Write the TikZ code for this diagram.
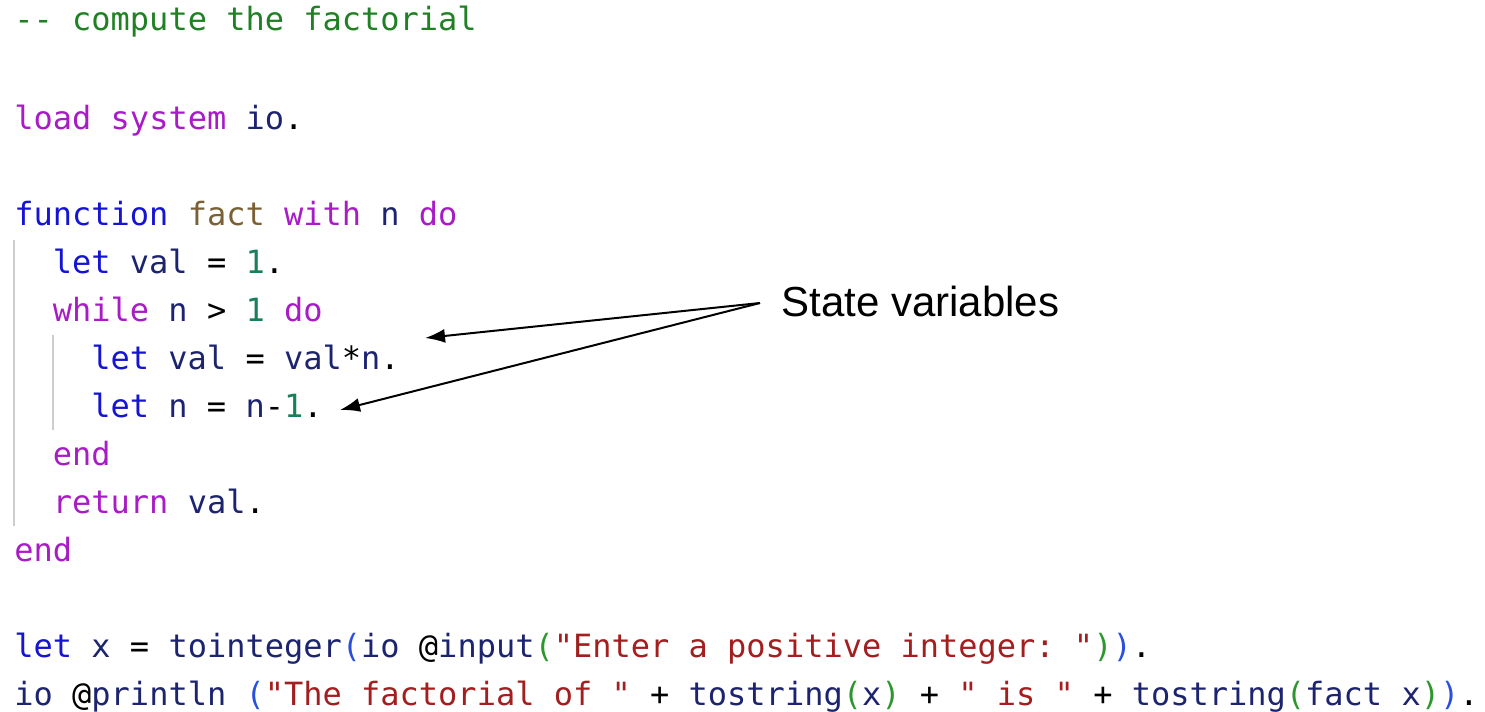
\documentclass[tikz,border=0pt]{standalone}
\usepackage{fontspec}
\setmonofont{DejaVu Sans Mono}[WordSpace={1,0,0}]
\newfontfamily\labelfont{Liberation Sans}
\usetikzlibrary{arrows.meta}

\definecolor{cmtcol}{RGB}{32,128,36}
\definecolor{kwcol}{RGB}{168,28,198}
\definecolor{blucol}{RGB}{20,20,210}
\definecolor{idcol}{RGB}{28,36,112}
\definecolor{declcol}{RGB}{122,96,52}
\definecolor{numcol}{RGB}{24,128,88}
\definecolor{strcol}{RGB}{163,30,30}
\definecolor{pgcol}{RGB}{45,150,45}
\definecolor{pbcol}{RGB}{40,80,220}
\definecolor{guidecol}{RGB}{205,205,205}

\newcommand{\ccmt}[1]{\textcolor{cmtcol}{#1}}
\newcommand{\ckw}[1]{\textcolor{kwcol}{#1}}
\newcommand{\cfn}[1]{\textcolor{blucol}{#1}}
\newcommand{\cid}[1]{\textcolor{idcol}{#1}}
\newcommand{\cdecl}[1]{\textcolor{declcol}{#1}}
\newcommand{\cnum}[1]{\textcolor{numcol}{#1}}
\newcommand{\cstr}[1]{\textcolor{strcol}{#1}}
\newcommand{\pg}[1]{\textcolor{pgcol}{#1}}
\newcommand{\pb}[1]{\textcolor{pbcol}{#1}}

\tikzset{
    code/.style={anchor=base west, inner sep=0pt, font=\ttfamily\fontsize{16}{19}\selectfont},
    guide/.style={draw=guidecol, line width=0.8pt},
    pointer/.style={-{Latex[length=10pt, width=7pt]}, line width=1pt},
}

\begin{document}
\begin{tikzpicture}[x=0.5pt, y=-0.5pt]
    \useasboundingbox (0, 0) rectangle (1485, 712);

    % Code
    \node[code] (cmt) at (14, 31) {\ccmt{-- compute the factorial}};
    \node[code] (load) at (14, 129) {\ckw{load} \ckw{system} \cid{io}.};
    \node[code] (func) at (14, 225) {\cfn{function} \cdecl{fact} \ckw{with} \cid{n} \ckw{do}};
    \node[code] (letval) at (52.5, 273) {\cfn{let} \cid{val} = \cnum{1}.};
    \node[code] (while) at (52.5, 321) {\ckw{while} \cid{n} > \cnum{1} \ckw{do}};
    \node[code] (update) at (91, 369) {\cfn{let} \cid{val} = \cid{val}*\cid{n}.};
    \node[code] (decr) at (91, 417) {\cfn{let} \cid{n} = \cid{n}-\cnum{1}.};
    \node[code] (endwhile) at (52.5, 465) {\ckw{end}};
    \node[code] (ret) at (52.5, 513) {\ckw{return} \cid{val}.};
    \node[code] (endfunc) at (14, 561) {\ckw{end}};
    \node[code] (letx) at (14, 657) {\cfn{let} \cid{x} = \cid{tointeger}\pb{(}\cid{io} @\cid{input}\pg{(}\cstr{"Enter a positive integer: "}\pg{)}\pb{)}.};
    \node[code] (print) at (14, 705) {\cid{io} @\cid{println} \pb{(}\cstr{"The factorial of "} + \cid{tostring}\pg{(}\cid{x}\pg{)} + \cstr{" is "} + \cid{tostring}\pg{(}\cid{fact} \cid{x}\pg{)}\pb{)}.};

    % Guides
    \draw[guide] (14, 240) -- (14, 526);
    \draw[guide] (53, 335) -- (53, 430);

    % Note
    \node[anchor=base west, inner sep=0pt, font=\labelfont\fontsize{21}{25}\selectfont] (statevars) at (781, 316) {State variables};
    \coordinate (fork) at (760, 303);
    \coordinate (tipval) at (425, 338);
    \coordinate (tipn) at (340, 410);
    \draw[pointer] (fork) -- (tipval);
    \draw[pointer] (fork) -- (tipn);

\end{tikzpicture}
\end{document}
